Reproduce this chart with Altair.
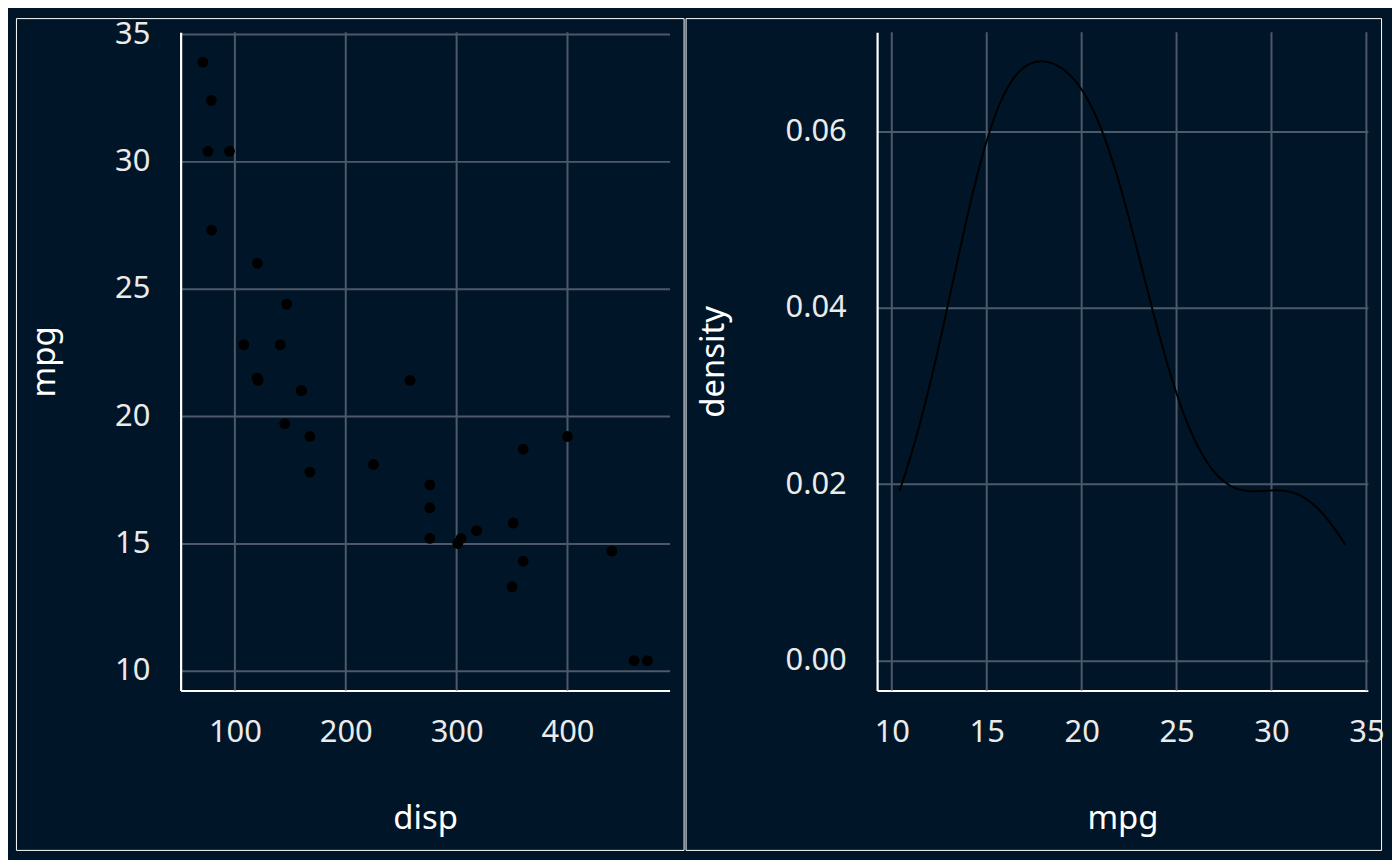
import pandas as pd
import altair as alt

# -----------------------------
# 1. Data (mtcars: displacement and mpg)
# -----------------------------
disp = [160, 160, 108, 258, 360, 225, 360, 146.7, 140.8, 167.6, 167.6,
        275.8, 275.8, 275.8, 472, 460, 440, 78.7, 75.7, 71.1, 120.1, 318,
        304, 350, 400, 79, 120.3, 95.1, 351, 145, 301, 121]
mpg = [21.0, 21.0, 22.8, 21.4, 18.7, 18.1, 14.3, 24.4, 22.8, 19.2, 17.8,
       16.4, 17.3, 15.2, 10.4, 10.4, 14.7, 32.4, 30.4, 33.9, 21.5, 15.5,
       15.2, 13.3, 19.2, 27.3, 26.0, 30.4, 15.8, 19.7, 15.0, 21.4]

disp_ticks = [100, 200, 300, 400]
mpg_ticks = [10, 15, 20, 25, 30, 35]
density_ticks = [0.0, 0.02, 0.04, 0.06]

cars = pd.DataFrame({"disp": disp, "mpg": mpg})

BG = "#001628"
GRID = "#4d5869"
FONT = "Noto Sans"

# scales (ggplot-style 5% expansion)
disp_scale = alt.Scale(domain=[51.05, 492.05], range=[165.5, 656.9], nice=False, zero=False)
mpg_y_scale = alt.Scale(domain=[9.225, 35.075], range=[675.8, 14.2], nice=False, zero=False)
mpg_x_scale = alt.Scale(domain=[9.225, 35.075], range=[192.5, 685.7], nice=False, zero=False)
dens_scale = alt.Scale(domain=[-0.00339, 0.0712], range=[675.8, 14.2], nice=False, zero=False)

# axes (same objects on every layer so they merge)
disp_axis = alt.Axis(values=disp_ticks, offset=-160.2, title="disp", grid=False,
                     labelPadding=27, titleY=139)
mpg_y_axis = alt.Axis(values=mpg_ticks, offset=-165.5, title="mpg", grid=True,
                      labelPadding=31, titleX=-127)
mpg_x_axis = alt.Axis(values=mpg_ticks, offset=-160.2, title="mpg", grid=False,
                      labelPadding=27, titleY=139)
dens_axis = alt.Axis(values=density_ticks, format=".2f", offset=-192.5, title="density",
                     grid=True, labelPadding=31, titleX=-154)

# -----------------------------
# 2. Left panel: scatter of mpg vs disp
# -----------------------------
disp_grid = alt.Chart(pd.DataFrame({"tick": disp_ticks})).mark_rule(
    color=GRID, strokeWidth=2
).encode(
    x=alt.X("tick:Q", scale=disp_scale, axis=disp_axis),
    y=alt.datum(9.225, scale=mpg_y_scale, axis=mpg_y_axis),
    y2=alt.datum(35.075),
)

points = alt.Chart(cars).mark_circle(size=120, color="black", opacity=1).encode(
    x=alt.X("disp:Q", scale=disp_scale, axis=disp_axis),
    y=alt.Y("mpg:Q", scale=mpg_y_scale, axis=mpg_y_axis),
)

scatter = alt.layer(disp_grid, points).properties(width=671, height=836)

# -----------------------------
# 3. Right panel: density of mpg
# -----------------------------
mpg_grid = alt.Chart(pd.DataFrame({"tick": mpg_ticks})).mark_rule(
    color=GRID, strokeWidth=2
).encode(
    x=alt.X("tick:Q", scale=mpg_x_scale, axis=mpg_x_axis),
    y=alt.datum(-0.00339, scale=dens_scale, axis=dens_axis),
    y2=alt.datum(0.0712),
)

curve = alt.Chart(cars).transform_density(
    "mpg", bandwidth=2.477, extent=[10.4, 33.9], steps=512, as_=["mpg", "density"]
).mark_line(color="black", strokeWidth=2).encode(
    x=alt.X("mpg:Q", scale=mpg_x_scale, axis=mpg_x_axis),
    y=alt.Y("density:Q", scale=dens_scale, axis=dens_axis),
)

density = alt.layer(mpg_grid, curve).properties(width=699, height=836)

# -----------------------------
# 4. Combine + style
# -----------------------------
chart = alt.hconcat(scatter, density, spacing=0).properties(
    background=BG,
    padding={"left": 7, "top": 7, "right": 7, "bottom": 7},
).configure_view(
    stroke="white", strokeWidth=1
).configure_axis(
    domainColor="white", domainWidth=2.2,
    gridColor=GRID, gridWidth=2, gridOpacity=1,
    ticks=False, labelFlush=False, labelOverlap=False, labelBound=False,
    labelColor="#ebebeb", labelFont=FONT, labelFontSize=31,
    titleColor="white", titleFont=FONT, titleFontSize=33, titleFontWeight="normal",
    titleBaseline="alphabetic",
)

chart.save("out.html", embed_options={"renderer": "svg", "actions": False})
